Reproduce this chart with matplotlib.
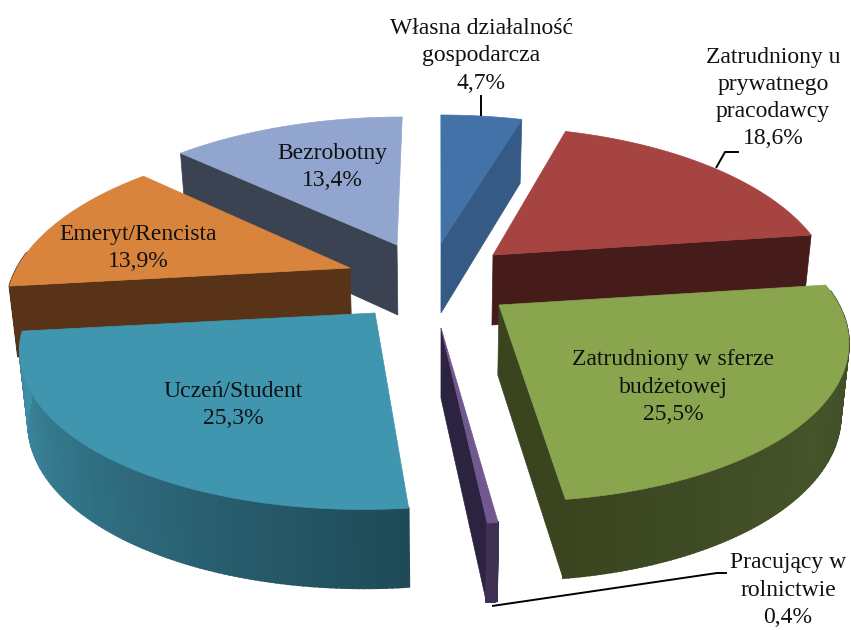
import numpy as np
import matplotlib
matplotlib.use("Agg")
import matplotlib.pyplot as plt
from matplotlib.colors import to_rgb

names = ["Własna działalność\ngospodarcza", "Zatrudniony u\nprywatnego\npracodawcy",
         "Zatrudniony w sferze\nbudżetowej", "Pracujący w\nrolnictwie",
         "Uczeń/Student", "Emeryt/Rencista", "Bezrobotny"]
values = [4.7, 18.6, 25.5, 0.4, 25.3, 13.9, 13.4]

top_colors = ["#4272A8", "#A64442", "#89A54E", "#71588F", "#4096AF", "#D8843C", "#91A5CE"]
side_colors = ["#355A85", "#451C1A", "#3A4520", "#3F3154", "#1F4A57", "#583318", "#3B4353"]
side_colors2 = [None, None, "#46542A", None, "#3F8FA8", None, None]  # lighter end of the wall gradient
face_colors = ["#355A85", "#451C1A", "#3A4520", "#2C2340", "#1F4A57", "#583318", "#3B4353"]

# where each exploded slice sits, in pixels
apex = [(441, 243), (493, 255), (499, 305), (441, 328), (375, 313), (350, 268), (397, 245)]
radius = [340, 331, 340, 348, 345, 333, 342]
faces = ["end", "end", "end", "end", None, "start", "start"]  # which cut side faces the viewer
label_pos = [(481, 56), (773, 98), (673, 387), (788, 590), (233, 405), (138, 248), (332, 167)]
order = [0, 6, 1, 5, 3, 2, 4]

# leader lines (slice 0, 1, 3)
leaders = {0: [(481, 95), (481, 116)],
           1: [(716, 168), (725, 152), (739, 152)],
           3: [(492, 606), (717, 573), (727, 573)]}

RY = 155
K = 0.211
CX = 440


def project(i, theta):
    """perspective ellipse point for slice i, theta clockwise from 12 o'clock"""
    ax, ay = apex[i]
    u, v = np.sin(theta), np.cos(theta)
    d = 1 + K * v
    x = ax + radius[i] * u / d + (ax - CX) * 0.7 * (1 / d - 1)
    y = ay - RY * v / d
    return x, y, d


def drop(x, y, d):
    """the same point on the bottom of the pie"""
    return CX + (x - CX) * 0.98, y + 70 * np.sqrt(1 / d)


fig = plt.figure(figsize=(8.51, 6.30), dpi=100)
ax = fig.add_axes([0, 0, 1, 1])
ax.set_xlim(0, 851)
ax.set_ylim(630, 0)
ax.axis("off")

edges = np.cumsum([0] + values) / sum(values) * 2 * np.pi

for n, i in enumerate(order):
    t = np.linspace(edges[i], edges[i + 1], 120)
    x, y, d = project(i, t)
    xb, yb = drop(x, y, d)
    ox, oy = apex[i]
    oxb, oyb = drop(ox, oy, 1.0)
    z = n * 10

    # cut side
    if faces[i] == "end":
        ax.fill([ox, x[-1], xb[-1], oxb], [oy, y[-1], yb[-1], oyb], color=face_colors[i], lw=0.5, zorder=z)
    elif faces[i] == "start":
        ax.fill([ox, x[0], xb[0], oxb], [oy, y[0], yb[0], oyb], color=face_colors[i], lw=0.5, zorder=z)

    # outer wall, in thin strips so it can carry a gradient; back part is never seen
    c1 = np.array(to_rgb(side_colors[i]))
    c2 = np.array(to_rgb(side_colors2[i])) if side_colors2[i] else c1
    for j in range(len(t) - 1):
        if np.cos(t[j]) > 0.1:
            continue
        f = j / (len(t) - 2)
        if i == 2:
            f = 1 - abs(2 * f - 1)  # green is darkest at both ends
        col = c1 + (c2 - c1) * f
        ax.fill([x[j], x[j + 1], xb[j + 1], xb[j]], [y[j], y[j + 1], yb[j + 1], yb[j]],
                color=col, lw=1.3, zorder=z + 1)

    ax.fill(np.r_[ox, x], np.r_[oy, y], color=top_colors[i], lw=0.5, zorder=z + 2)

for i, pts in leaders.items():
    ax.plot(*zip(*pts), color="black", lw=1.4, zorder=200, solid_capstyle="butt")

for i, name in enumerate(names):
    lab = f"{name}\n{values[i]:.1f}%".replace(".", ",")
    ax.text(label_pos[i][0], label_pos[i][1], lab, ha="center", va="center", ma="center",
            family="Liberation Serif", fontsize=17, linespacing=1.38, color="#111111", zorder=300)

fig.savefig("out.png", dpi=100)
